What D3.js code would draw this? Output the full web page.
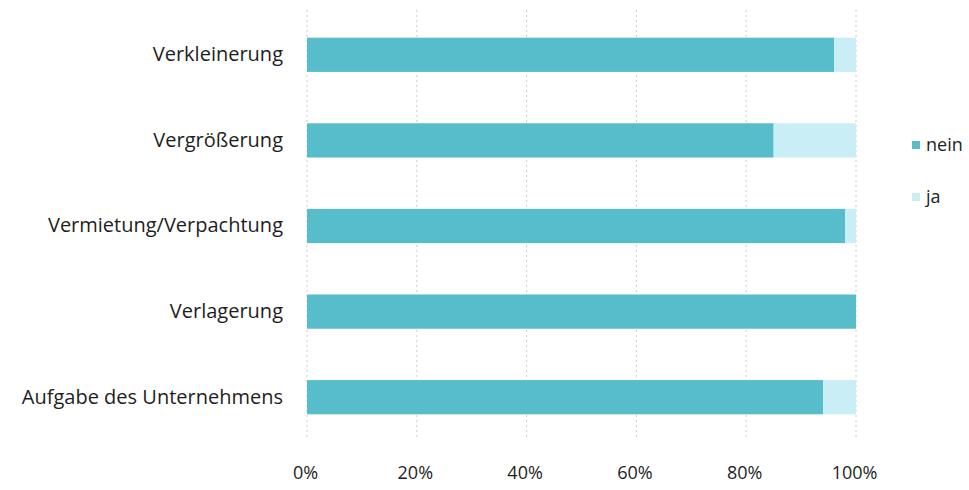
<!DOCTYPE html>
<html>
<head>
<meta charset="utf-8">
<script src="https://cdn.jsdelivr.net/npm/d3@7"></script>
<style>
  body { margin: 0; background: #fff; }
  svg text { font-family: "Open Sans", "Noto Sans", sans-serif; fill: #1e1e1e; }
</style>
</head>
<body>
<svg id="chart" width="969" height="490"></svg>
<script>
// Categories (top to bottom) and share of answers in percent
const categories = [
  "Verkleinerung",
  "Vergrößerung",
  "Vermietung/Verpachtung",
  "Verlagerung",
  "Aufgabe des Unternehmens"
];
const neinValues = [96, 85, 98, 100, 94];
const jaValues   = [4, 15, 2, 0, 6];
const seriesNames = ["nein", "ja"];
const seriesColors = ["#58bdcb", "#c9eef6"];
const tickValues = [0, 20, 40, 60, 80, 100];

const svg = d3.select("#chart");

const margin = { left: 307, right: 113 };
const width = 969 - margin.left - margin.right;
const plotTop = 12, plotBottom = 440;

const x = d3.scaleLinear().domain([0, 100]).range([margin.left, margin.left + width]);
const y = d3.scaleBand().domain(categories).range([plotTop, plotBottom]).paddingInner(0.6).paddingOuter(0.3);

// Dashed vertical gridlines
svg.append("g")
  .selectAll("line")
  .data(tickValues)
  .join("line")
  .attr("x1", d => x(d)).attr("x2", d => x(d))
  .attr("y1", 10).attr("y2", 440)
  .attr("stroke", "#cccccc")
  .attr("stroke-width", 1)
  .attr("stroke-dasharray", "2,3");

// Stacked data
const rows = categories.map((c, i) => ({ cat: c, nein: neinValues[i], ja: jaValues[i] }));
const stack = d3.stack().keys(seriesNames)(rows);

svg.append("g")
  .selectAll("g")
  .data(stack)
  .join("g")
  .attr("fill", (d, i) => seriesColors[i])
  .selectAll("rect")
  .data(d => d)
  .join("rect")
  .attr("x", d => x(d[0]))
  .attr("width", d => x(d[1]) - x(d[0]))
  .attr("y", d => y(d.data.cat))
  .attr("height", y.bandwidth());

// Category labels
const yAxis = d3.axisLeft(y).tickSize(0).tickPadding(24);
const yg = svg.append("g").attr("transform", `translate(${margin.left},0)`).call(yAxis);
yg.select(".domain").remove();
yg.selectAll("text").style("font-size", "20px").attr("fill", "#1e1e1e");

// Percent tick labels
const xAxis = d3.axisBottom(x).tickValues(tickValues).tickFormat(d => d + "%").tickSize(0).tickPadding(0);
const xg = svg.append("g").attr("transform", "translate(-2,466)").call(xAxis);
xg.select(".domain").remove();
xg.selectAll("text").style("font-size", "18px").attr("fill", "#1e1e1e");

// Legend
const legend = svg.append("g").attr("transform", "translate(912,0)");
const legendY = [145, 197];
seriesNames.forEach((name, i) => {
  legend.append("rect")
    .attr("x", 0).attr("y", legendY[i] - 4)
    .attr("width", 8).attr("height", 8)
    .attr("fill", seriesColors[i]);
  legend.append("text")
    .attr("x", 14).attr("y", legendY[i])
    .attr("dy", "0.35em")
    .style("font-size", "18px")
    .text(name);
});
</script>
</body>
</html>
